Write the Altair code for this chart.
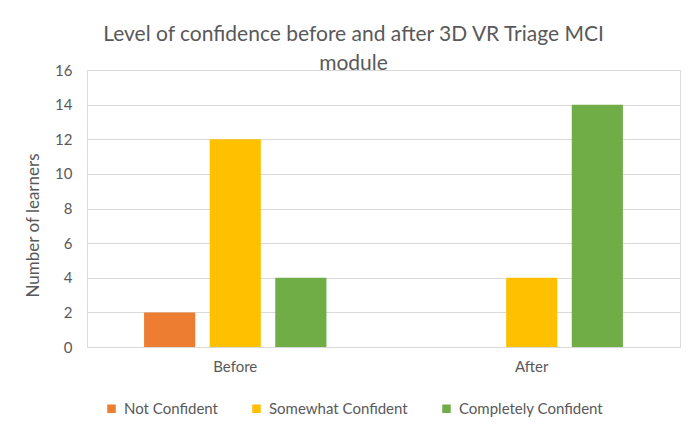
import altair as alt
import pandas as pd

phases = ["Before", "After"]
levels = ["Not Confident", "Somewhat Confident", "Completely Confident"]
before_counts = [2, 12, 4]
after_counts = [0, 4, 14]
level_colors = ["#ED7D31", "#FFC000", "#70AD47"]

rows = []
for lvl, b, a in zip(levels, before_counts, after_counts):
    rows.append({"Phase": "Before", "Level": lvl, "Count": b})
    rows.append({"Phase": "After", "Level": lvl, "Count": a})
df = pd.DataFrame(rows)

FONT = "Lato"
TXT = "#595959"

chart = alt.Chart(df).mark_bar().encode(
    x=alt.X("Phase:N", sort=phases,
            scale=alt.Scale(paddingInner=0, paddingOuter=0),
            axis=alt.Axis(title=None, labelAngle=0, ticks=False, domain=True,
                          domainColor="#d9d9d9", labelPadding=12,
                          labelFontSize=15, labelColor=TXT, labelFont=FONT)),
    xOffset=alt.XOffset("Level:N", sort=levels,
                        scale=alt.Scale(domain=levels, paddingInner=0.22, paddingOuter=0.87)),
    y=alt.Y("Count:Q",
            scale=alt.Scale(domain=[0, 16]),
            axis=alt.Axis(title="Number  of learners", values=list(range(0, 17, 2)),
                          ticks=False, domain=False, grid=True, gridColor="#d9d9d9",
                          labelPadding=15, labelFontSize=15, labelColor=TXT, labelFont=FONT,
                          titleFontSize=17, titleColor=TXT, titleFont=FONT,
                          titleFontWeight="normal", titleX=-54, titleY=155,
                          titleAlign="center", titleBaseline="middle", titleAngle=270)),
    color=alt.Color("Level:N", sort=levels,
                    scale=alt.Scale(domain=levels, range=level_colors),
                    legend=alt.Legend(title=None, orient="none", direction="horizontal",
                                      legendX=17, legendY=331, symbolType="square",
                                      symbolSize=72, symbolStrokeWidth=0,
                                      labelFontSize=15, labelColor=TXT, labelFont=FONT,
                                      labelOffset=5, columnPadding=31)),
).properties(
    width=593,
    height=277,
    title=alt.TitleParams(
        text=["Level of confidence before and after 3D VR Triage MCI", "module"],
        fontSize=21, font=FONT, color=TXT, fontWeight="normal",
        lineHeight=29, anchor="middle", dx=-30, dy=15, offset=4,
    ),
    autosize=alt.AutoSizeParams(type="none"),
    padding={"left": 79, "top": 62, "right": 2, "bottom": 78},
).configure_view(stroke=None).configure(background="white")

chart.save("out.html", embed_options={"renderer": "svg", "actions": False})
